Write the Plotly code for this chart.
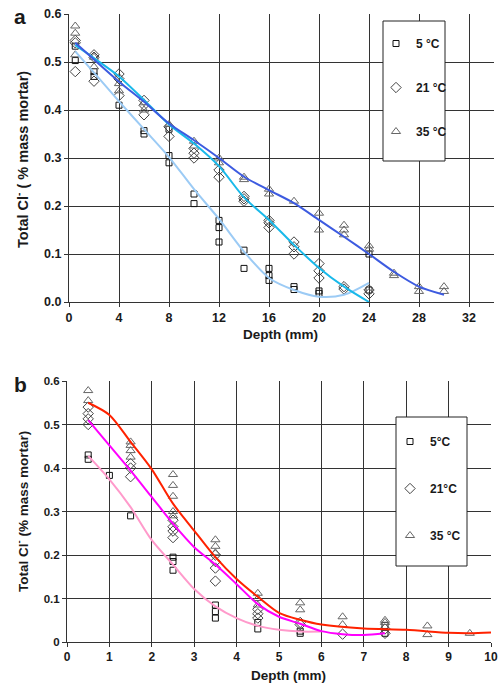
import plotly.graph_objects as go

# ---------------- Panel a data (depth mm, total Cl- % mass mortar) ----------------
a_5_depth = [0.5, 0.5, 2, 2, 4, 6, 6, 8, 8, 8, 10, 10, 12, 12, 12, 14, 14, 16, 16, 16,
             18, 18, 20, 20, 24, 24]
a_5_cl = [0.533, 0.503, 0.48, 0.47, 0.41, 0.357, 0.35, 0.36, 0.305, 0.29, 0.225, 0.205,
          0.17, 0.155, 0.125, 0.108, 0.07, 0.07, 0.055, 0.045, 0.032, 0.026, 0.023, 0.018,
          0.10, 0.025]

a_21_depth = [0.5, 0.5, 0.5, 2, 2, 2, 4, 4, 4, 6, 6, 6, 8, 8, 10, 10, 10, 12, 12,
              14, 14, 14, 16, 16, 16, 18, 18, 18, 20, 20, 20, 22, 22, 24, 24]
a_21_cl = [0.545, 0.54, 0.48, 0.515, 0.51, 0.46, 0.475, 0.465, 0.43, 0.42, 0.41, 0.39,
           0.365, 0.345, 0.32, 0.31, 0.30, 0.275, 0.26, 0.22, 0.215, 0.21, 0.17, 0.165,
           0.155, 0.125, 0.115, 0.10, 0.08, 0.065, 0.05, 0.032, 0.027, 0.025, 0.017]

a_35_depth = [0.5, 0.5, 0.5, 2, 2, 4, 4, 6, 6, 8, 10, 10, 12, 12, 14, 14, 16, 16, 18,
              20, 20, 22, 22, 22, 24, 24, 26, 26, 28, 28, 30, 30]
a_35_cl = [0.575, 0.56, 0.515, 0.51, 0.49, 0.455, 0.44, 0.415, 0.40, 0.37, 0.335, 0.325,
           0.30, 0.29, 0.26, 0.255, 0.235, 0.225, 0.21, 0.185, 0.15, 0.16, 0.15, 0.14,
           0.117, 0.11, 0.06, 0.055, 0.032, 0.022, 0.032, 0.022]

# fitted trend lines, panel a
a_fit5_depth = [0.5, 2, 4, 6, 8, 10, 12, 14, 16, 18, 20, 22, 24]
a_fit5_cl = [0.522, 0.478, 0.418, 0.36, 0.302, 0.235, 0.173, 0.105, 0.05, 0.025, 0.011, 0.015, 0.04]
a_fit21_depth = [0.5, 2, 4, 6, 8, 10, 12, 14, 16, 18, 20, 22, 24]
a_fit21_cl = [0.535, 0.508, 0.47, 0.421, 0.37, 0.33, 0.283, 0.218, 0.171, 0.119, 0.071, 0.032, 0.0]
a_fit35_depth = [0.5, 2, 4, 6, 8, 10, 12, 14, 16, 18, 20, 22, 24, 26, 28, 30]
a_fit35_cl = [0.54, 0.505, 0.459, 0.417, 0.372, 0.337, 0.30, 0.261, 0.233, 0.206, 0.171,
              0.136, 0.10, 0.063, 0.032, 0.015]

# ---------------- Panel b data ----------------
b_5_depth = [0.5, 0.5, 1.0, 1.5, 2.5, 2.5, 2.5, 3.5, 3.5, 3.5, 4.5, 4.5, 5.5, 5.5, 7.5, 7.5]
b_5_cl = [0.43, 0.42, 0.383, 0.29, 0.195, 0.185, 0.165, 0.085, 0.07, 0.055, 0.045, 0.03,
          0.025, 0.02, 0.038, 0.02]

b_21_depth = [0.5, 0.5, 0.5, 0.5, 1.5, 1.5, 1.5, 2.5, 2.5, 2.5, 2.5, 3.5, 3.5, 3.5, 3.5,
              4.5, 4.5, 4.5, 5.5, 5.5, 6.5, 7.5, 7.5]
b_21_cl = [0.54, 0.525, 0.513, 0.50, 0.41, 0.40, 0.38, 0.28, 0.265, 0.255, 0.24, 0.20,
           0.185, 0.17, 0.14, 0.075, 0.065, 0.055, 0.045, 0.04, 0.018, 0.03, 0.02]

b_35_depth = [0.5, 0.5, 1.5, 1.5, 1.5, 1.5, 2.5, 2.5, 2.5, 2.5, 2.5, 3.5, 3.5, 3.5,
              4.5, 4.5, 4.5, 5.5, 5.5, 6.5, 6.5, 7.5, 7.5, 8.5, 8.5, 9.5]
b_35_cl = [0.578, 0.555, 0.46, 0.452, 0.44, 0.425, 0.385, 0.36, 0.335, 0.30, 0.29, 0.235,
           0.22, 0.205, 0.112, 0.10, 0.085, 0.09, 0.074, 0.058, 0.04, 0.05, 0.045, 0.037,
           0.017, 0.02]

b_fit5_depth = [0.5, 1.0, 1.5, 2.0, 2.5, 3.0, 3.5, 4.0, 4.5, 5.0, 5.5, 6.0]
b_fit5_cl = [0.428, 0.374, 0.31, 0.234, 0.178, 0.122, 0.082, 0.055, 0.037, 0.028, 0.024, 0.024]
b_fit21_depth = [0.5, 1.0, 1.5, 2.0, 2.5, 3.0, 3.5, 4.0, 4.5, 5.0, 5.5, 6.0, 6.5, 7.0, 7.5]
b_fit21_cl = [0.51, 0.452, 0.394, 0.333, 0.272, 0.218, 0.178, 0.133, 0.087, 0.058, 0.042,
              0.025, 0.018, 0.016, 0.02]
b_fit35_depth = [0.5, 1.0, 1.5, 2.0, 2.5, 3.0, 3.5, 4.0, 4.5, 5.0, 5.5, 6.0, 7.0, 8.0, 9.0, 9.5, 10.0]
b_fit35_cl = [0.55, 0.522, 0.46, 0.397, 0.318, 0.256, 0.195, 0.145, 0.104, 0.067, 0.051,
              0.04, 0.031, 0.028, 0.021, 0.02, 0.022]

a_x_ticks = [0, 4, 8, 12, 16, 20, 24, 28, 32]
a_y_ticks = [0.0, 0.1, 0.2, 0.3, 0.4, 0.5, 0.6]
b_x_ticks = [0, 1, 2, 3, 4, 5, 6, 7, 8, 9, 10]
b_y_ticks = [0, 0.1, 0.2, 0.3, 0.4, 0.5, 0.6]
b_y_ticktext = ["0", "0.1", "0.2", "0.3", "0.4", "0.5", "0.6"]

W, H = 499, 684
def px(x):
    return x / W
def py(y):
    return 1 - y / H

FONT = "Liberation Sans"
TXT = "#1a1a1a"

fig = go.Figure()

sym = {"5": ("square-open", "#111111", 6), "21": ("diamond-open", "#444444", 8),
       "35": ("triangle-up-open", "#666666", 8)}

def add_points(xs, ys, key, name, xa, ya, legend):
    s, c, sz = sym[key]
    fig.add_trace(go.Scatter(x=xs, y=ys, mode="markers", name=name, xaxis=xa, yaxis=ya,
                             legend=legend, legendgroup=legend + key,
                             marker=dict(symbol=s, color=c, size=sz, line=dict(width=1, color=c))))

def add_line(xs, ys, color, xa, ya):
    fig.add_trace(go.Scatter(x=xs, y=ys, mode="lines", showlegend=False, xaxis=xa, yaxis=ya,
                             line=dict(color=color, width=2, shape="spline", smoothing=0.8)))

add_points(a_5_depth, a_5_cl, "5", "5 °C", "x", "y", "legend")
add_points(a_21_depth, a_21_cl, "21", "21 °C", "x", "y", "legend")
add_points(a_35_depth, a_35_cl, "35", "35 °C", "x", "y", "legend")
add_line(a_fit5_depth, a_fit5_cl, "#9ccbf5", "x", "y")
add_line(a_fit21_depth, a_fit21_cl, "#19b9ea", "x", "y")
add_line(a_fit35_depth, a_fit35_cl, "#3d5be0", "x", "y")

add_points(b_5_depth, b_5_cl, "5", "5°C", "x2", "y2", "legend2")
add_points(b_21_depth, b_21_cl, "21", "21°C", "x2", "y2", "legend2")
add_points(b_35_depth, b_35_cl, "35", "35 °C", "x2", "y2", "legend2")
add_line(b_fit5_depth, b_fit5_cl, "#ff9acb", "x2", "y2")
add_line(b_fit21_depth, b_fit21_cl, "#ff00ff", "x2", "y2")
add_line(b_fit35_depth, b_fit35_cl, "#ff2200", "x2", "y2")

def common(fs):
    return dict(showgrid=True, gridcolor="#333333", gridwidth=1, showline=True,
                linecolor="#333333", linewidth=1, ticks="outside", ticklen=4,
                tickcolor="#333333", zeroline=False, automargin=False,
                tickfont=dict(family=FONT, size=fs, color=TXT, weight="bold"))

def ann(text, x, y, size, angle=0):
    return dict(text=text, x=px(x), y=py(y), xref="paper", yref="paper", showarrow=False,
                xanchor="center", yanchor="middle", textangle=angle,
                font=dict(family=FONT, size=size, color=TXT, weight="bold"))

fig.update_layout(
    width=W, height=H, autosize=False,
    margin=dict(l=0, r=0, t=0, b=0, pad=0, autoexpand=False),
    paper_bgcolor="white", plot_bgcolor="white",
    xaxis=dict(domain=[px(69), px(494)], range=[0, 34], tickvals=a_x_ticks, anchor="y", **common(12.5)),
    yaxis=dict(domain=[py(302), py(14)], range=[0, 0.6], tickvals=a_y_ticks, tickformat=".1f",
               anchor="x", **common(12.5)),
    xaxis2=dict(domain=[px(67), px(491)], range=[0, 10], tickvals=b_x_ticks, anchor="y2", **common(12)),
    yaxis2=dict(domain=[py(642), py(381)], range=[0, 0.6], tickvals=b_y_ticks,
                ticktext=b_y_ticktext, anchor="x2", **common(11.5)),
    legend=dict(x=px(376), y=py(29), xanchor="left", yanchor="top", bgcolor="rgba(0,0,0,0)",
                borderwidth=0, tracegroupgap=25, itemwidth=30,
                font=dict(family=FONT, size=12, color=TXT, weight="bold")),
    legend2=dict(x=px(390), y=py(427), xanchor="left", yanchor="top", bgcolor="rgba(0,0,0,0)",
                 borderwidth=0, tracegroupgap=28, itemwidth=30,
                 font=dict(family=FONT, size=12, color=TXT, weight="bold")),
    shapes=[
        dict(type="rect", xref="paper", yref="paper", x0=px(383), x1=px(445), y0=py(161), y1=py(21),
             line=dict(color="#222222", width=1), fillcolor="white", layer="above"),
        dict(type="rect", xref="paper", yref="paper", x0=px(396), x1=px(467), y0=py(566), y1=py(417),
             line=dict(color="#222222", width=1), fillcolor="white", layer="above"),
    ],
    annotations=[
        ann("a", 20, 16, 21),
        ann("b", 20, 384, 21),
        ann("Total Cl<sup>-</sup> ( % mass mortar)", 22, 160, 14.5, -90),
        ann("Total Cl<sup>-</sup> (% mass mortar)", 22, 512, 13.5, -90),
        ann("Depth (mm)", 280, 334, 13.5),
        ann("Depth (mm)", 288, 675, 13.5),
    ],
)

fig.write_html("out.html", config={"displayModeBar": False},
               post_script="document.body.style.margin='0';")
